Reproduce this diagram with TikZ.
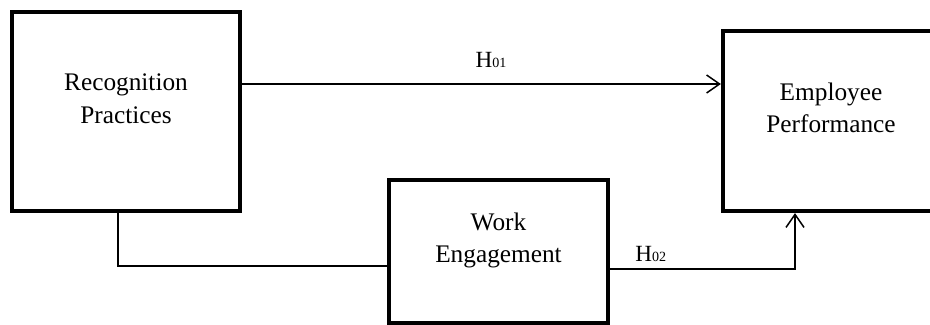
\documentclass[tikz,border=0pt]{standalone}
\usepackage{fontspec}
\setmainfont{Liberation Serif}
\usetikzlibrary{arrows.meta, positioning, calc}

\begin{document}
\begin{tikzpicture}[>={Straight Barb[length=0.26cm, width=0.36cm]},
  varbox/.style={draw=black, line width=2.4pt, inner sep=0pt},
  vartext/.style={align=center, font=\fontsize{14.4}{18.6}\selectfont},
  link/.style={line width=0.85pt},
  hyp/.style={font=\fontsize{13.2}{14}\selectfont, inner sep=1pt}]
  \useasboundingbox (0,0) rectangle (18.6,6.5);

  % the three variables
  \node[varbox, minimum width=4.56cm, minimum height=3.98cm] (rp) at (2.52,4.27) {};
  \node[varbox, minimum width=4.32cm, minimum height=3.60cm] (ep) at (16.62,4.08) {};
  \node[varbox, minimum width=4.38cm, minimum height=2.86cm] (we) at (9.97,1.47) {};

  \node[vartext] (rptext) at ([yshift=0.25cm]rp.center) {Recognition\\Practices};
  \node[vartext] (eptext) at ([yshift=0.26cm]ep.center) {Employee\\Performance};
  \node[vartext] (wetext) at ([yshift=0.22cm]we.center) {Work\\Engagement};

  % hypotheses
  \draw[link, ->] ([yshift=0.55cm]rp.east) -- ([yshift=0.55cm]rp.east -| ep.west)
    node[hyp, above=0.28cm, pos=0.52] (h1) {H{\fontsize{8}{8}\selectfont 01}};
  \draw[link] ([xshift=-0.16cm]rp.south) |- ([yshift=-0.29cm]we.west);
  \draw[link, ->] ([yshift=-0.35cm]we.east) -| ([xshift=-0.72cm]ep.south)
    node[hyp, above=0.1cm, pos=0.11] (h2) {H{\fontsize{8}{8}\selectfont 02}};
\end{tikzpicture}
\end{document}
